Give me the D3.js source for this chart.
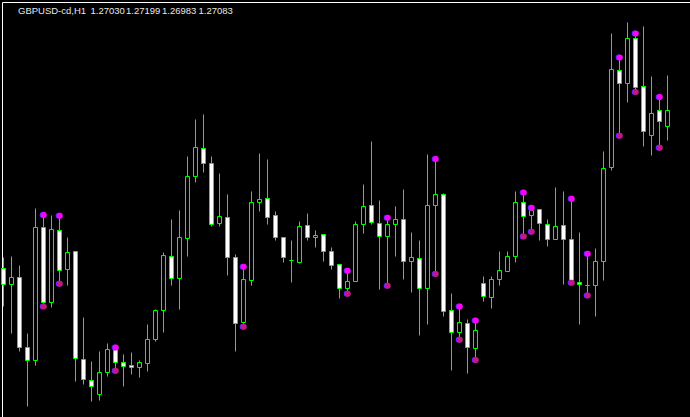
<!DOCTYPE html>
<html>
<head>
<meta charset="utf-8">
<script src="https://cdn.jsdelivr.net/npm/d3@7"></script>
<style>
  html, body { margin: 0; padding: 0; background: #000; }
  svg { display: block; }
</style>
</head>
<body>
<script>
// DATA (GBPUSD H1, one value per bar, oldest first)
var symbol = 'GBPUSD-cd,H1';

var opens = [
  1.26549, 1.26496, 1.26521, 1.26285, 1.26240, 1.26689, 1.26435, 1.26679, 1.26546, 1.26608,
  1.26244, 1.26174, 1.26127, 1.26199, 1.26278, 1.26234, 1.26224, 1.26216, 1.26230, 1.26310,
  1.26409, 1.26591, 1.26516, 1.26652, 1.26860, 1.26955, 1.26905, 1.26703, 1.26723, 1.26588,
  1.26368, 1.26509, 1.26773, 1.26787, 1.26730, 1.26655, 1.26577, 1.26571, 1.26696, 1.26655,
  1.26666, 1.26608, 1.26565, 1.26482, 1.26506, 1.26698, 1.26763, 1.26703, 1.26658, 1.26698,
  1.26716, 1.26573, 1.26585, 1.26482, 1.26762, 1.26800, 1.26410, 1.26334, 1.26366, 1.26280,
  1.26501, 1.26452, 1.26513, 1.26540, 1.26590, 1.26773, 1.26728, 1.26750, 1.26699, 1.26647,
  1.26694, 1.26649, 1.26504, 1.26494, 1.26492, 1.26573, 1.26890, 1.27219, 1.27173, 1.27326,
  1.27164, 1.26998, 1.27084, 1.27030
];
var highs = [
  1.26586, 1.26592, 1.26559, 1.26332, 1.26751, 1.26731, 1.26730, 1.26728, 1.26656, 1.26609,
  1.26384, 1.26238, 1.26271, 1.26296, 1.26284, 1.26259, 1.26266, 1.26242, 1.26363, 1.26411,
  1.26603, 1.26717, 1.26747, 1.26929, 1.27051, 1.27068, 1.26929, 1.26872, 1.26801, 1.26599,
  1.26556, 1.26811, 1.26939, 1.26919, 1.26744, 1.26655, 1.26646, 1.26710, 1.26737, 1.26677,
  1.26666, 1.26622, 1.26565, 1.26543, 1.26710, 1.26832, 1.26977, 1.26781, 1.26721, 1.26758,
  1.26818, 1.26670, 1.26643, 1.26936, 1.26919, 1.26804, 1.26467, 1.26422, 1.26379, 1.26375,
  1.26522, 1.26525, 1.26606, 1.26609, 1.26811, 1.26806, 1.26755, 1.26750, 1.26717, 1.26822,
  1.26809, 1.26785, 1.26670, 1.26600, 1.26618, 1.26946, 1.27341, 1.27261, 1.27378, 1.27342,
  1.27367, 1.27196, 1.27128, 1.27199
];
var lows = [
  1.26421, 1.26330, 1.26270, 1.26085, 1.26222, 1.26422, 1.26420, 1.26499, 1.26492, 1.26169,
  1.26159, 1.26102, 1.26105, 1.26186, 1.26206, 1.26152, 1.26193, 1.26182, 1.26203, 1.26306,
  1.26334, 1.26492, 1.26411, 1.26590, 1.26840, 1.26873, 1.26691, 1.26691, 1.26526, 1.26270,
  1.26354, 1.26492, 1.26744, 1.26697, 1.26646, 1.26572, 1.26502, 1.26568, 1.26644, 1.26621,
  1.26573, 1.26546, 1.26449, 1.26465, 1.26506, 1.26668, 1.26697, 1.26478, 1.26492, 1.26590,
  1.26512, 1.26469, 1.26326, 1.26363, 1.26532, 1.26388, 1.26208, 1.26310, 1.26195, 1.26242,
  1.26439, 1.26417, 1.26492, 1.26540, 1.26570, 1.26658, 1.26674, 1.26646, 1.26624, 1.26647,
  1.26495, 1.26502, 1.26360, 1.26459, 1.26388, 1.26509, 1.26880, 1.26998, 1.27109, 1.27145,
  1.26961, 1.26930, 1.26957, 1.26983
];
var closes = [
  1.26498, 1.26521, 1.26284, 1.26240, 1.26689, 1.26435, 1.26682, 1.26544, 1.26605, 1.26246,
  1.26177, 1.26154, 1.26201, 1.26278, 1.26234, 1.26221, 1.26216, 1.26235, 1.26312, 1.26410,
  1.26595, 1.26517, 1.26655, 1.26860, 1.26959, 1.26905, 1.26699, 1.26726, 1.26588, 1.26366,
  1.26514, 1.26773, 1.26784, 1.26722, 1.26655, 1.26587, 1.26577, 1.26693, 1.26655, 1.26662,
  1.26607, 1.26560, 1.26482, 1.26507, 1.26699, 1.26760, 1.26705, 1.26658, 1.26699, 1.26714,
  1.26573, 1.26586, 1.26482, 1.26763, 1.26800, 1.26405, 1.26334, 1.26369, 1.26285, 1.26342,
  1.26455, 1.26514, 1.26544, 1.26591, 1.26773, 1.26725, 1.26747, 1.26701, 1.26647, 1.26693,
  1.26647, 1.26509, 1.26497, 1.26494, 1.26575, 1.26888, 1.27222, 1.27173, 1.27326, 1.27161,
  1.27011, 1.27073, 1.27045, 1.27083
];
// bars where the indicator drew its dots (on the high and on the low)
var signalBars = [5, 7, 14, 30, 43, 48, 54, 57, 59, 65, 66, 71, 73, 77, 79, 82];

// SETUP
var width = 690;
var height = 417;
var candleColor = '#00ff00';
var upDotColor = '#ff00ff';
var downDotColor = '#c71585';

var bars = opens.map(function(o, i) {
  return { i: i, o: o, h: highs[i], l: lows[i], c: closes[i] };
});

var svg = d3.select('body')
  .append('svg')
  .attr('width', width)
  .attr('height', height)
  .style('background', '#000');

// one bar every 8px, price scale taken from the chart window
var x = d3.scaleLinear()
  .domain([0, bars.length - 1])
  .range([3.5, 3.5 + 8 * (bars.length - 1)]);
var y = d3.scaleLinear()
  .domain([1.26050, 1.27455])
  .range([height, 0]);

function px(v) { return Math.round(x(v) - 0.5) + 0.5; }
function py(v) { return Math.round(y(v) - 0.5) + 0.5; }

// frame (top and left edges of the chart window)
svg.append('line')
  .attr('x1', 2.5).attr('y1', 2.5).attr('x2', width).attr('y2', 2.5)
  .attr('stroke', '#fff');
svg.append('line')
  .attr('x1', 2.5).attr('y1', 2.5).attr('x2', 2.5).attr('y2', height)
  .attr('stroke', '#fff');

var plot = svg.append('g');

// wicks
plot.selectAll('line.wick')
  .data(bars)
  .enter()
  .append('line')
  .attr('class', 'wick')
  .attr('x1', function(d) { return px(d.i); })
  .attr('x2', function(d) { return px(d.i); })
  .attr('y1', function(d) { return py(d.h); })
  .attr('y2', function(d) { return py(d.l); })
  .attr('stroke', candleColor)
  .attr('stroke-width', 1);

// bodies: white = bear, black = bull
plot.selectAll('path.body')
  .data(bars)
  .enter()
  .append('path')
  .attr('class', 'body')
  .attr('d', function(d) {
    var x0 = px(d.i) - 2, x1 = px(d.i) + 2;
    var top = py(Math.max(d.o, d.c)), bot = py(Math.min(d.o, d.c));
    return 'M' + x0 + ',' + top + 'H' + x1 + 'V' + bot + 'H' + x0 + 'Z';
  })
  .attr('fill', function(d) { return d.c < d.o ? '#fff' : '#000'; })
  .attr('stroke', candleColor)
  .attr('stroke-width', 1);

// indicator dots
var sig = signalBars.map(function(i) { return bars[i]; });

function dots(cls, key, color) {
  var g = plot.append('g').attr('class', cls);
  g.selectAll('circle.edge')
    .data(sig)
    .enter()
    .append('circle')
    .attr('cx', function(d) { return x(d.i) - 0.8; })
    .attr('cy', function(d) { return y(d[key]); })
    .attr('r', 3)
    .attr('fill', '#5a28ff');
  g.selectAll('circle.dot')
    .data(sig)
    .enter()
    .append('circle')
    .attr('cx', function(d) { return x(d.i) + 0.3; })
    .attr('cy', function(d) { return y(d[key]); })
    .attr('r', 3)
    .attr('fill', color);
}
dots('up', 'h', upDotColor);
dots('down', 'l', downDotColor);

// header: symbol and OHLC of the last bar
var last = bars[bars.length - 1];
var header = [symbol, last.o, last.h, last.l, last.c];
var headerX = [18, 90.5, 126, 162, 198.5];

svg.selectAll('text.hdr')
  .data(header)
  .enter()
  .append('text')
  .attr('class', 'hdr')
  .attr('x', function(d, i) { return headerX[i]; })
  .attr('y', 14)
  .attr('fill', '#e8e8e8')
  .style('font-family', '"Liberation Sans", Arial, sans-serif')
  .style('font-size', '9.5px')
  .text(function(d) { return typeof d === 'number' ? d.toFixed(5) : d; });
</script>
</body>
</html>
